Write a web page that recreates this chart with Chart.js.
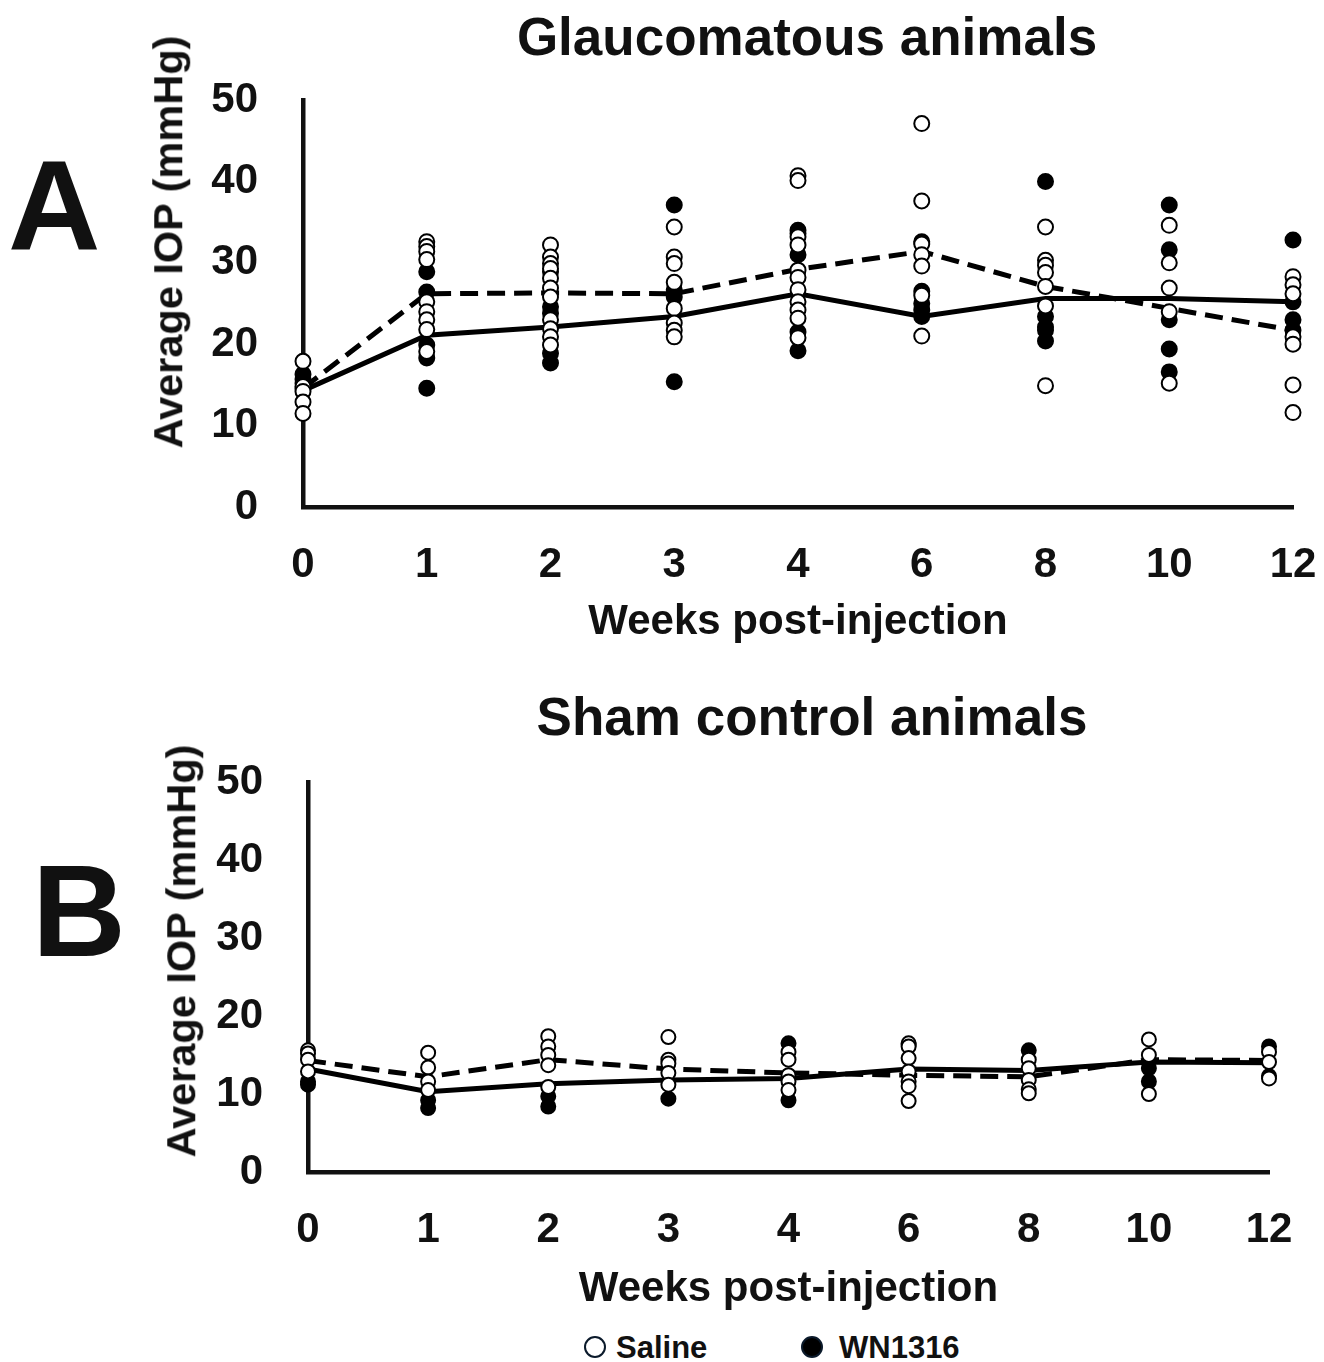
<!DOCTYPE html>
<html>
<head>
<meta charset="utf-8">
<script src="https://cdn.jsdelivr.net/npm/chart.js@4.4.1/dist/chart.umd.min.js"></script>
<style>
  body { margin: 0; background: #fff; }
  #page { position: relative; width: 1324px; height: 1362px; overflow: hidden; font-family: "Liberation Sans", Arial, sans-serif; font-weight: bold; color: #111; }
  canvas { position: absolute; left: 0; }
  .txt { position: absolute; white-space: nowrap; line-height: 1; }
  .ytitle { position: absolute; white-space: nowrap; line-height: 1; font-size: 41.5px; transform: translate(-50%, -50%) rotate(-90deg); }
  .dot { position: absolute; width: 18px; height: 18px; border-radius: 50%; border: 2.5px solid #0b1a2b; }
</style>
</head>
<body>
<div id="page">
  <canvas id="graficoA" width="1324" height="660" style="top:0"></canvas>
  <canvas id="graficoB" width="1324" height="665" style="top:660px"></canvas>

  <div class="txt" style="left:8px; top:142px; font-size:128px;">A</div>
  <div class="txt" style="left:32px; top:846px; font-size:130px;">B</div>

  <div class="txt" style="left:807px; top:10px; font-size:53px; transform:translateX(-50%);">Glaucomatous animals</div>
  <div class="txt" style="left:812px; top:690px; font-size:53px; transform:translateX(-50%);">Sham control animals</div>

  <div class="ytitle" style="left:168px; top:242px;">Average IOP (mmHg)</div>
  <div class="ytitle" style="left:181px; top:951px;">Average IOP (mmHg)</div>

  <!-- leyenda -->
  <div class="dot" style="left:584px; top:1336px; background:#fff;"></div>
  <div class="txt" style="left:616px; top:1332px; font-size:31px;">Saline</div>
  <div class="dot" style="left:801px; top:1336px; background:#000;"></div>
  <div class="txt" style="left:839px; top:1332px; font-size:31px;">WN1316</div>
</div>

<script>
// semanas (eje x)
const weeks = ['0', '1', '2', '3', '4', '6', '8', '10', '12'];
const yTicks = [0, 10, 20, 30, 40, 50];

// A - glaucomatous, valores individuales por semana
const glaucSaline = [
  [17.9, 14.8, 14.2, 12.9, 11.5],
  [32.6, 32.0, 31.4, 30.4, 25.2, 24.0, 23.0, 21.8, 19.1],
  [32.2, 30.7, 29.9, 29.3, 28.1, 26.9, 25.8, 23.0, 21.9, 20.9, 19.9],
  [34.4, 30.7, 29.9, 27.6, 24.4, 22.6, 21.7, 20.9],
  [40.7, 40.1, 33.2, 32.2, 29.1, 28.2, 26.7, 25.2, 24.2, 23.2, 20.8],
  [47.1, 37.6, 32.3, 31.0, 29.6, 26.0, 21.0],
  [34.4, 30.3, 29.7, 28.8, 27.1, 24.7, 14.9],
  [34.6, 30.0, 26.9, 24.0, 15.2],
  [28.3, 27.3, 26.2, 20.9, 20.0, 15.0, 11.6]
];
const glaucWN = [
  [16.3, 15.7, 15.2, 14.5],
  [28.9, 26.4, 19.9, 18.3, 14.6],
  [28.9, 24.6, 23.8, 18.9, 17.7],
  [37.1, 26.7, 25.8, 15.4],
  [34.0, 33.6, 31.0, 21.5, 19.2],
  [32.6, 26.5, 25.0, 24.2, 23.4],
  [40.0, 23.4, 22.1, 21.7, 20.4],
  [37.1, 31.6, 23.0, 19.4, 16.6],
  [32.8, 25.2, 23.0, 21.7]
];
const glaucSalineMean = [14.6, 26.2, 26.3, 26.2, 29.2, 31.4, 27.1, 24.4, 21.7];
const glaucWNMean = [14.3, 21.1, 22.1, 23.4, 26.2, 23.4, 25.6, 25.6, 25.2];

// B - sham control
const shamSaline = [
  [15.6, 15.2, 14.4, 12.9],
  [15.3, 13.4, 11.6, 10.5],
  [17.4, 16.1, 15.0, 13.7, 10.9],
  [17.3, 14.4, 13.9, 12.7, 11.2],
  [15.4, 14.4, 12.4, 11.6, 10.5],
  [16.5, 16.1, 14.6, 12.9, 11.6, 11.0, 9.1],
  [14.4, 13.3, 11.8, 10.6, 10.1],
  [17.0, 15.0, 10.0],
  [15.4, 14.1, 12.0]
];
const shamWN = [
  [11.6, 11.2],
  [9.2, 8.2],
  [9.7, 8.4],
  [9.4],
  [16.5, 9.2],
  [16.3],
  [15.6],
  [13.3, 11.6],
  [16.1, 12.3]
];
const shamSalineMean = [14.3, 12.2, 14.4, 13.2, 12.7, 12.4, 12.2, 14.4, 14.3];
const shamWNMean = [13.2, 10.3, 11.3, 11.8, 12.0, 13.2, 13.0, 14.1, 14.0];

const FONT = '"Liberation Sans", Arial, sans-serif';

// pasar [[v,v],[v]] a puntos {x: semana, y: valor}
function toPoints(cols) {
  return cols.flatMap((vals, i) => vals.map(v => ({ x: weeks[i], y: v })));
}

function crearGrafico(id, saline, wn, salineMean, wnMean, o) {
  const ctx = document.getElementById(id).getContext('2d');
  return new Chart(ctx, {
    type: 'line',
    data: {
      labels: weeks,
      datasets: [
        {
          label: 'Saline',
          data: toPoints(saline),
          showLine: false,
          pointRadius: o.r,
          pointBorderWidth: 2,
          pointBackgroundColor: '#fff',
          pointBorderColor: '#000',
          order: 0,
          clip: false
        },
        {
          label: 'WN1316',
          data: toPoints(wn),
          showLine: false,
          pointRadius: o.r,
          pointBorderWidth: 2,
          pointBackgroundColor: '#000',
          pointBorderColor: '#000',
          order: 1,
          clip: false
        },
        {
          label: 'Saline mean',
          data: salineMean,
          borderColor: '#000',
          borderWidth: 5,
          borderDash: [18, 9],
          pointRadius: 0,
          tension: 0,
          order: 2
        },
        {
          label: 'WN1316 mean',
          data: wnMean,
          borderColor: '#000',
          borderWidth: 5,
          pointRadius: 0,
          tension: 0,
          order: 3
        }
      ]
    },
    options: {
      responsive: false,
      animation: false,
      layout: { padding: { top: o.top, right: o.right, bottom: 0, left: 0 } },
      plugins: {
        legend: { display: false },
        tooltip: { enabled: false }
      },
      scales: {
        x: {
          type: 'category',
          offset: false,
          grid: { display: false, drawTicks: false },
          border: { display: true, color: '#111', width: 4.5 },
          ticks: { color: '#111', padding: 33, font: { family: FONT, size: 42, weight: 'bold' }, maxRotation: 0 },
          title: { display: true, text: 'Weeks post-injection', color: '#111', padding: { top: 0, bottom: o.titlePad }, font: { family: FONT, size: 42, weight: 'bold' } },
          // alto fijo y sin relleno extra a los lados
          afterFit: s => { s.height = 153; s.paddingLeft = 0; s.paddingRight = 0; }
        },
        y: {
          min: 0,
          max: 50,
          afterBuildTicks: s => { s.ticks = yTicks.map(v => ({ value: v })); },
          grid: { display: false, drawTicks: false },
          border: { display: true, color: '#111', width: 4.5 },
          ticks: { color: '#111', padding: 45, font: { family: FONT, size: 42, weight: 'bold' } },
          afterFit: s => { s.width = o.left; s.paddingTop = 0; s.paddingBottom = 0; }
        }
      }
    }
  });
}

crearGrafico('graficoA', glaucSaline, glaucWN, glaucSalineMean, glaucWNMean,
  { top: 100, right: 31, left: 303, titlePad: 12, r: 7.5 });
crearGrafico('graficoB', shamSaline, shamWN, shamSalineMean, shamWNMean,
  { top: 122, right: 55, left: 308, titlePad: 10, r: 7 });
</script>
</body>
</html>
